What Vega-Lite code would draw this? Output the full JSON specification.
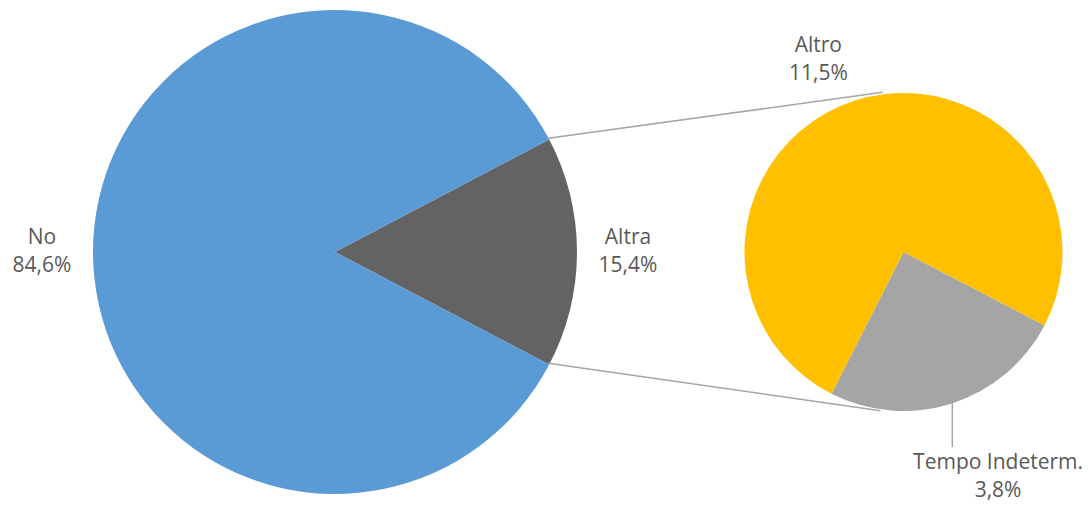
{
  "$schema": "https://vega.github.io/schema/vega-lite/v6.json",
  "width": 1089,
  "height": 508,
  "autosize": {"type": "none"},
  "padding": 0,
  "background": "white",
  "config": {
    "view": {"stroke": null},
    "text": {"font": "Open Sans", "fontSize": 21, "lineHeight": 28}
  },
  "layer": [
    {
      "data": {"values": [
        {"cat": "Altra", "value": 15.4, "label": "Altra\n15,4%"},
        {"cat": "No", "value": 84.6, "label": "No\n84,6%"}
      ]},
      "encoding": {
        "x": {"datum": 335, "type": "quantitative", "scale": {"domain": [0, 1089], "nice": false, "zero": false}, "axis": null},
        "y": {"datum": 252, "type": "quantitative", "scale": {"domain": [0, 508], "nice": false, "zero": false, "reverse": true}, "axis": null},
        "theta": {"field": "value", "type": "quantitative", "stack": true, "scale": {"range": [1.08699, 7.37018]}},
        "order": {"field": "value", "type": "quantitative", "sort": "ascending"}
      },
      "layer": [
        {
          "mark": {"type": "arc", "outerRadius": 242},
          "encoding": {
            "color": {"field": "cat", "type": "nominal", "scale": {"domain": ["Altra", "No", "Altro", "Tempo Indeterm."], "range": ["#636363", "#5B9BD5", "#FFC000", "#A5A5A5"]}, "legend": null}
          }
        },
        {
          "mark": {"type": "text", "radius": 293, "dy": -14, "align": "center", "baseline": "middle", "lineBreak": "\n", "color": "#595959"},
          "encoding": {
            "text": {"field": "label", "type": "nominal"},
            "detail": {"field": "cat", "type": "nominal"}
          }
        }
      ]
    },
    {
      "data": {"values": [
        {"cat": "Tempo Indeterm.", "value": 3.8, "label": "Tempo Indeterm.\n3,8%"},
        {"cat": "Altro", "value": 11.5, "label": "Altro\n11,5%"}
      ]},
      "encoding": {
        "x": {"datum": 903.5, "type": "quantitative", "scale": {"domain": [0, 1089], "nice": false, "zero": false}, "axis": null},
        "y": {"datum": 252, "type": "quantitative", "scale": {"domain": [0, 508], "nice": false, "zero": false, "reverse": true}, "axis": null},
        "theta": {"field": "value", "type": "quantitative", "stack": true, "scale": {"range": [2.0508, 8.3340]}},
        "order": {"field": "value", "type": "quantitative", "sort": "ascending"}
      },
      "layer": [
        {
          "mark": {"type": "arc", "outerRadius": 159},
          "encoding": {
            "color": {"field": "cat", "type": "nominal", "scale": {"domain": ["Altra", "No", "Altro", "Tempo Indeterm."], "range": ["#636363", "#5B9BD5", "#FFC000", "#A5A5A5"]}, "legend": null}
          }
        },
        {
          "mark": {"type": "text", "radius": 210, "dx": -21, "dy": -6, "align": "center", "baseline": "middle", "lineBreak": "\n", "color": "#595959"},
          "encoding": {
            "text": {"condition": {"test": "datum.cat === 'Altro'", "field": "label", "type": "nominal"}, "value": ""},
            "detail": {"field": "cat", "type": "nominal"}
          }
        },
        {
          "mark": {"type": "text", "radius": 244, "dx": 20, "dy": -21, "align": "center", "baseline": "middle", "lineBreak": "\n", "color": "#595959"},
          "encoding": {
            "text": {"condition": {"test": "datum.cat === 'Tempo Indeterm.'", "field": "label", "type": "nominal"}, "value": ""},
            "detail": {"field": "cat", "type": "nominal"}
          }
        }
      ]
    },
    {
      "data": {"values": [{}]},
      "layer": [
        {
          "mark": {"type": "rule", "color": "#A6A6A6", "strokeWidth": 1.5},
          "encoding": {
            "x": {"datum": 548.3, "type": "quantitative", "scale": {"domain": [0, 1089], "nice": false, "zero": false}, "axis": null},
            "y": {"datum": 138.3, "type": "quantitative", "scale": {"domain": [0, 508], "nice": false, "zero": false, "reverse": true}, "axis": null},
            "x2": {"datum": 882.7},
            "y2": {"datum": 92.3}
          }
        },
        {
          "mark": {"type": "rule", "color": "#A6A6A6", "strokeWidth": 1.5},
          "encoding": {
            "x": {"datum": 548.3, "type": "quantitative", "scale": {"domain": [0, 1089], "nice": false, "zero": false}, "axis": null},
            "y": {"datum": 363.3, "type": "quantitative", "scale": {"domain": [0, 508], "nice": false, "zero": false, "reverse": true}, "axis": null},
            "x2": {"datum": 880.5},
            "y2": {"datum": 410.7}
          }
        },
        {
          "mark": {"type": "rule", "color": "#A6A6A6", "strokeWidth": 1.5},
          "encoding": {
            "x": {"datum": 952.3, "type": "quantitative", "scale": {"domain": [0, 1089], "nice": false, "zero": false}, "axis": null},
            "y": {"datum": 403, "type": "quantitative", "scale": {"domain": [0, 508], "nice": false, "zero": false, "reverse": true}, "axis": null},
            "y2": {"datum": 447}
          }
        }
      ]
    }
  ],
  "resolve": {"scale": {"theta": "independent"}}
}
